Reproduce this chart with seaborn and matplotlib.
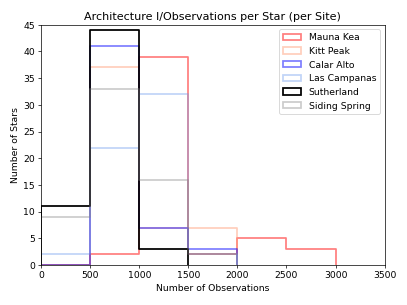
import matplotlib
matplotlib.use('Agg')
import matplotlib.pyplot as plt
from matplotlib.patches import Patch
import numpy as np
import seaborn as sns

# bin edges (number of observations) and star counts per bin for each site
edges = [0, 500, 1000, 1500, 2000, 2500, 3000, 3500]
sites = ['Mauna Kea', 'Kitt Peak', 'Calar Alto', 'Las Campanas', 'Sutherland', 'Siding Spring']
mauna_kea = [0, 2, 39, 2, 5, 3]
kitt_peak = [0, 37, 7, 7]
calar_alto = [0, 41, 7, 3]
las_campanas = [2, 22, 32, 2]
sutherland = [11, 44, 3]
siding_spring = [9, 33, 16, 2]
counts = [mauna_kea, kitt_peak, calar_alto, las_campanas, sutherland, siding_spring]

colors = ['red', 'lightsalmon', 'blue', 'cornflowerblue', 'black', 'gray']
alphas = [0.5, 0.5, 0.5, 0.4, 1.0, 0.4]

plt.rcParams['font.size'] = 10.5

fig, ax = plt.subplots(figsize=(6.4, 4.8), dpi=63.6)
fig.subplots_adjust(left=0.101, right=0.945, bottom=0.131, top=0.918)

handles = []
for site, c, col, a in zip(sites, counts, colors, alphas):
    e = edges[:len(c) + 1]
    centers = [(lo + hi) / 2 for lo, hi in zip(e[:-1], e[1:])]
    sns.histplot(x=centers, weights=c, bins=e, element='step', fill=False,
                 color=col, alpha=a, linewidth=2, ax=ax)
    # close the outline down to zero at both ends, like a step histogram
    line = ax.lines[-1]
    xs, ys = line.get_data()
    line.set_data(np.r_[xs[0], xs, xs[-1]], np.r_[0, ys, 0])
    handles.append(Patch(facecolor='none', edgecolor=col, alpha=a, linewidth=2, label=site))

ax.set_xlim(0, 3500)
ax.set_ylim(0, 45)
ax.set_xlabel('Number of Observations')
ax.set_ylabel('Number of Stars')
ax.set_title('Architecture I/Observations per Star (per Site)')
ax.legend(handles=handles, loc='upper right')

fig.savefig('out.png', dpi=63.6)
